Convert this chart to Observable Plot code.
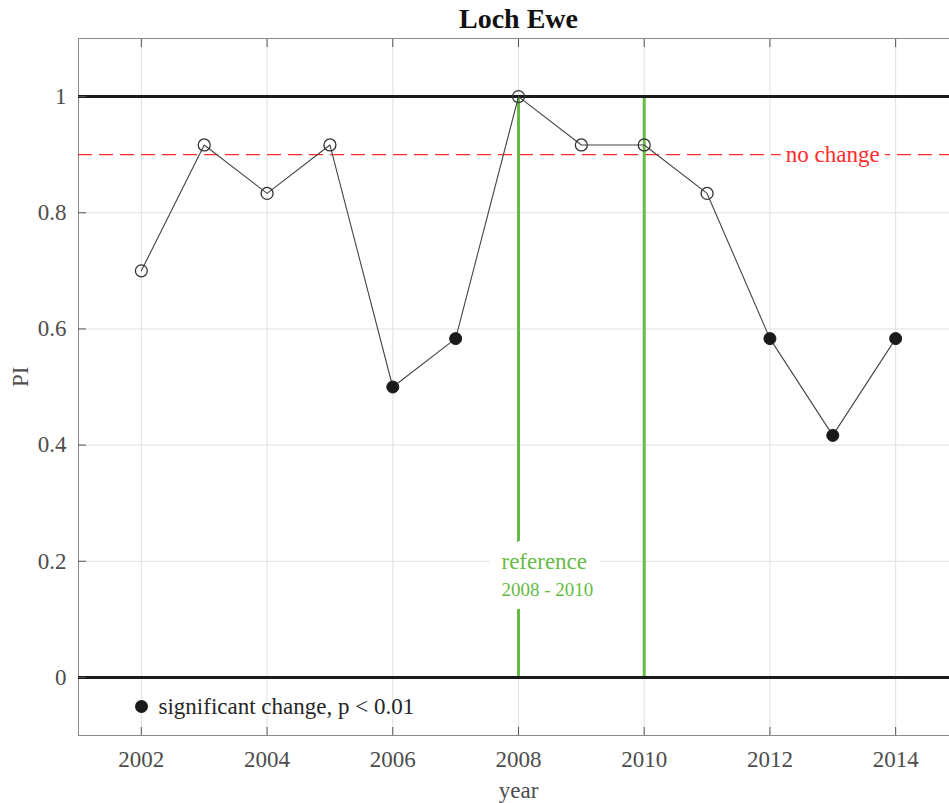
<!DOCTYPE html>
<html>
<head>
<meta charset="utf-8">
<script src="https://cdn.jsdelivr.net/npm/d3@7"></script>
<script src="https://cdn.jsdelivr.net/npm/@observablehq/plot@0.6"></script>
<style>
  html, body { margin: 0; padding: 0; background: #fff; overflow: hidden; }
</style>
</head>
<body>
<div id="chart"></div>
<script>
// Loch Ewe phytoplankton index by year
const title = "Loch Ewe";
const years = [2002, 2003, 2004, 2005, 2006, 2007, 2008, 2009, 2010, 2011, 2012, 2013, 2014];
const piValues = [0.7, 0.9167, 0.8333, 0.9167, 0.5, 0.5833, 1.0, 0.9167, 0.9167, 0.8333, 0.5833, 0.4167, 0.5833];
const significant = [false, false, false, false, true, true, false, false, false, false, true, true, true];
const xTicks = [2002, 2004, 2006, 2008, 2010, 2012, 2014];
const yTicks = [0, 0.2, 0.4, 0.6, 0.8, 1];
const boundLevels = [0, 1];
const noChangeLevel = 0.9;
const referenceYears = [2008, 2010];
const referenceLabel = "reference";
const referenceRange = "2008 - 2010";
const noChangeLabel = "no change";
const legendLabel = "significant change, p < 0.01";

const rows = years.map((year, i) => ({year, pi: piValues[i], sig: significant[i]}));

const serif = "'Liberation Serif', 'Times New Roman', serif";
const green = "#66bb44";
const red = "#ff2b2b";
const ink = "#1a1a1a";
const tickInk = "#4d4d4d";

const chart = Plot.plot({
  width: 960,
  height: 803,
  marginTop: 38,
  marginLeft: 78,
  marginRight: 2,
  marginBottom: 68,
  style: {fontFamily: serif, fontSize: "23px", background: "#fff", maxWidth: "none", overflow: "visible"},
  x: {domain: [2001, 2015]},
  y: {domain: [-0.1, 1.1]},
  marks: [
    Plot.gridX(xTicks, {stroke: "#e0e0e0", strokeOpacity: 1}),
    Plot.gridY(yTicks, {stroke: "#e0e0e0", strokeOpacity: 1}),
    Plot.frame({stroke: "#8a8a8a"}),

    // no-change reference level
    Plot.ruleY([noChangeLevel], {stroke: red, strokeWidth: 1.3, strokeDasharray: "14,7"}),
    Plot.text([noChangeLabel], {x: 2013, y: noChangeLevel, fill: "white", stroke: "white", strokeWidth: 12}),
    Plot.text([noChangeLabel], {x: 2013, y: noChangeLevel, fill: red}),

    // reference period
    Plot.ruleX(referenceYears, {y1: 0, y2: 1, stroke: green, strokeWidth: 3}),
    Plot.text([referenceLabel], {x: referenceYears[0], y: 0.2, textAnchor: "start", dx: -17, fill: "white", stroke: "white", strokeWidth: 26, strokeLinejoin: "round"}),
    Plot.text([referenceRange], {x: referenceYears[0], y: 0.2, dy: 29, textAnchor: "start", dx: -17, fontSize: 19, fill: "white", stroke: "white", strokeWidth: 26, strokeLinejoin: "round"}),
    Plot.text([referenceLabel], {x: referenceYears[0], y: 0.2, textAnchor: "start", dx: -17, fill: green}),
    Plot.text([referenceRange], {x: referenceYears[0], y: 0.2, dy: 29, textAnchor: "start", dx: -17, fontSize: 19, fill: green}),

    // PI bounds
    Plot.ruleY(boundLevels, {stroke: ink, strokeWidth: 3}),

    // PI series
    Plot.line(rows, {x: "year", y: "pi", stroke: "#444", strokeWidth: 1.1}),
    Plot.dot(rows.filter(d => !d.sig), {x: "year", y: "pi", r: 6, fill: "none", stroke: "#333", strokeWidth: 1.3}),
    Plot.dot(rows.filter(d => d.sig), {x: "year", y: "pi", r: 6, fill: ink, stroke: ink, strokeWidth: 1}),

    // axes
    Plot.axisX(xTicks, {anchor: "bottom", tickSize: 0, tickPadding: 15, fill: tickInk, tickFormat: d => String(d), label: null}),
    Plot.axisX(xTicks, {anchor: "bottom", tickSize: -8, tickFormat: () => "", stroke: "#555", label: null}),
    Plot.axisX(xTicks, {anchor: "top", tickSize: -8, tickFormat: () => "", stroke: "#555", label: null}),
    Plot.axisY(yTicks, {anchor: "left", tickSize: 0, tickPadding: 12, fill: tickInk, tickFormat: d => String(d), label: null}),
    Plot.axisY(yTicks, {anchor: "left", tickSize: -8, tickFormat: () => "", stroke: "#555", label: null}),

    // axis titles and chart title
    Plot.text(["year"], {frameAnchor: "bottom", dy: 55, lineAnchor: "middle", fill: tickInk}),
    Plot.text(["PI"], {frameAnchor: "left", dx: -58, rotate: -90, fill: tickInk}),
    Plot.text([title], {frameAnchor: "top", dy: -19, lineAnchor: "middle", fontWeight: "bold", fontSize: 28, fill: "#111"}),

    // legend
    Plot.dot([legendLabel], {frameAnchor: "bottom-left", dx: 63, dy: -29, r: 6.5, fill: ink}),
    Plot.text([legendLabel], {frameAnchor: "bottom-left", dx: 80, dy: -29, lineAnchor: "middle", textAnchor: "start", fill: "#262626"})
  ]
});

document.getElementById("chart").appendChild(chart);
</script>
</body>
</html>
